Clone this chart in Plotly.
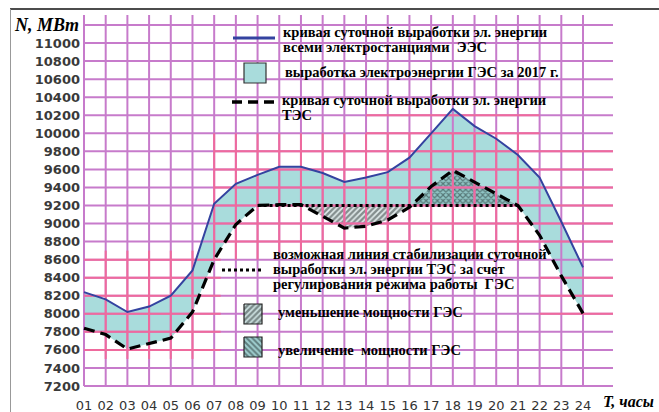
import plotly.graph_objects as go

# ---------------- data ----------------
hours = list(range(1, 25))
hour_labels = [f"{h:02d}" for h in hours]
total_ees = [8240, 8160, 8020, 8080, 8200, 8480, 9220, 9440, 9540, 9630, 9630, 9560,
             9460, 9510, 9570, 9730, 10000, 10270, 10080, 9940, 9760, 9510, 9020, 8515]
tes = [7840, 7770, 7610, 7670, 7730, 8020, 8600, 8990, 9200, 9210, 9210, 9080,
       8950, 8970, 9040, 9180, 9410, 9590, 9460, 9330, 9200, 8870, 8420, 8005]
stab_hours = [9, 21]
stab_level = 9200
y_ticks = list(range(7200, 11001, 200))
grid_y = list(range(7200, 11201, 200))

# ---------------- geometry ----------------
W, H = 659, 412
PL, PR, PT, PB = 81, 615, 14, 389
PPH = 21.696          # px per hour
PPU = 18.05 / 200.0   # px per MW
X0 = 1 - (84 - PL) / PPH
X1 = 1 + (PR - 84) / PPH
Y0 = 7200 - (PB - 386) / PPU
Y1 = 7200 + (386 - PT) / PPU
XH_END = 1 + (613 - 84) / PPH
YV_TOP = 7200 + (386 - 15) / PPU


def DX(px):
    return 1 + (px - 84) / PPH


def DY(py):
    return 7200 + (386 - py) / PPU


def PXp(px):
    return (px - PL) / (PR - PL)


def PYp(py):
    return (PB - py) / (PB - PT)


PURPLE = "#c77bcb"
PINK = "#ef6a9d"
CYAN = "#a9dcdc"
BLUE = "#3443a0"

# ---------------- fill boundaries ----------------
a, b = stab_hours
s = stab_level
low_x, low_y = [], []
mn_x, mn_y = [], []
mx_x, mx_y = [], []
for i, (x, y) in enumerate(zip(hours, tes)):
    inside = a <= x <= b
    low_x.append(x)
    low_y.append(max(y, s) if inside else y)
    if inside:
        mn_x.append(x); mn_y.append(min(y, s))
        mx_x.append(x); mx_y.append(max(y, s))
    if i < len(hours) - 1:
        x2, y2 = hours[i + 1], tes[i + 1]
        if a <= x and x2 <= b and (y - s) * (y2 - s) < 0:
            xc = x + (s - y) / (y2 - y) * (x2 - x)
            low_x.append(xc); low_y.append(s)
            mn_x.append(xc); mn_y.append(s)
            mx_x.append(xc); mx_y.append(s)

fig = go.Figure()

fig.add_trace(go.Scatter(
    x=hours + low_x[::-1], y=total_ees + low_y[::-1],
    fill="toself", fillcolor=CYAN, line=dict(width=0), mode="lines",
    hoverinfo="skip", showlegend=False))

fig.add_trace(go.Scatter(
    x=mn_x + [b, a], y=mn_y + [s, s],
    fill="toself", mode="lines", line=dict(width=0),
    fillpattern=dict(shape="/", fgcolor="#26302f", bgcolor="#e2ecec", size=4, solidity=0.6),
    hoverinfo="skip", showlegend=False))

fig.add_trace(go.Scatter(
    x=mx_x + [b, a], y=mx_y + [s, s],
    fill="toself", mode="lines", line=dict(width=0),
    fillpattern=dict(shape="x", fgcolor="#22302f", bgcolor="#8fc4c4", size=4, solidity=0.5),
    hoverinfo="skip", showlegend=False))

# ---------------- grid (drawn above the fills) ----------------
gx, gy = [], []
for h in hours:
    gx += [h, h, None]; gy += [7200, YV_TOP, None]
for g in grid_y:
    gx += [1, XH_END, None]; gy += [g, g, None]
fig.add_trace(go.Scatter(x=gx, y=gy, mode="lines", line=dict(color=PURPLE, width=2),
                         hoverinfo="skip", showlegend=False))

pink_h = [(1, 7.3, g) for g in range(7600, 8601, 200)]
pink_h += [(7, XH_END, g) for g in range(8800, 9801, 200)]
pink_h += [(22, XH_END, g) for g in range(8000, 8401, 200)]
pink_h += [(14, 22, g) for g in range(10000, 10201, 200)]
pink_v = [(h, 7500, 8700) for h in range(2, 7)]
pink_v += [(h, 8600, 10000) for h in range(7, 22)]
px_, py_ = [], []
for x0, x1, g in pink_h:
    px_ += [x0, x1, None]; py_ += [g, g, None]
for h, y0, y1 in pink_v:
    px_ += [h, h, None]; py_ += [y0, y1, None]
fig.add_trace(go.Scatter(x=px_, y=py_, mode="lines", line=dict(color=PINK, width=2),
                         hoverinfo="skip", showlegend=False))

# ---------------- lines ----------------
fig.add_trace(go.Scatter(x=hours, y=total_ees, mode="lines",
                         line=dict(color=BLUE, width=2), hoverinfo="skip", showlegend=False))
fig.add_trace(go.Scatter(x=hours, y=tes, mode="lines",
                         line=dict(color="black", width=3.2, dash="11px,6px"),
                         hoverinfo="skip", showlegend=False))
fig.add_trace(go.Scatter(x=stab_hours, y=[stab_level, stab_level], mode="lines",
                         line=dict(color="black", width=3, dash="dot"),
                         hoverinfo="skip", showlegend=False))

# ---------------- legend icons ----------------
def square(px0, py0, px1, py1):
    return ([DX(px0), DX(px1), DX(px1), DX(px0), DX(px0)],
            [DY(py0), DY(py0), DY(py1), DY(py1), DY(py0)])

sx, sy = square(244, 304, 262, 324)
fig.add_trace(go.Scatter(x=sx, y=sy, fill="toself", mode="lines",
                         line=dict(color="#222", width=1.2),
                         fillpattern=dict(shape="/", fgcolor="#26302f", bgcolor="#cfe3e3", size=4, solidity=0.6),
                         hoverinfo="skip", showlegend=False))
sx, sy = square(244, 337, 262, 357)
fig.add_trace(go.Scatter(x=sx, y=sy, fill="toself", mode="lines",
                         line=dict(color="#222", width=1.2),
                         fillpattern=dict(shape="\\", fgcolor="#22302f", bgcolor="#9fcfcf", size=4, solidity=0.5),
                         hoverinfo="skip", showlegend=False))

shapes = [
    dict(type="line", xref="paper", yref="paper", x0=PXp(233), x1=PXp(275),
         y0=PYp(38), y1=PYp(38), line=dict(color=BLUE, width=3)),
    dict(type="rect", xref="paper", yref="paper", x0=PXp(244), x1=PXp(266),
         y0=PYp(63), y1=PYp(83), fillcolor=CYAN, line=dict(color="#333", width=1.2)),
    dict(type="line", xref="paper", yref="paper", x0=PXp(232), x1=PXp(275),
         y0=PYp(102), y1=PYp(102), line=dict(color="black", width=3.5, dash="10px,6px")),
    dict(type="line", xref="paper", yref="paper", x0=PXp(222), x1=PXp(263),
         y0=PYp(270), y1=PYp(270), line=dict(color="black", width=3, dash="dot")),
    dict(type="line", xref="paper", yref="paper", x0=PXp(10), x1=PXp(659),
         y0=PYp(9), y1=PYp(9), line=dict(color="#111", width=1.5)),
    dict(type="line", xref="paper", yref="paper", x0=PXp(10.5), x1=PXp(10.5),
         y0=PYp(9), y1=PYp(412), line=dict(color="#999", width=1)),
]

SERIF = "Liberation Serif"
annotations = []


def ann(text, px, py, size=14.5, anchor="left"):
    annotations.append(dict(
        text=text, xref="paper", yref="paper", x=PXp(px), y=PYp(py),
        xanchor=anchor, yanchor="middle", showarrow=False,
        font=dict(family=SERIF, size=size, color="#000")))


ann("<b>кривая суточной выработки эл. энергии</b>", 281, 32)
ann("<b>всеми электростанциями  ЭЭС</b>", 281, 47)
ann("<b>выработка электроэнергии ГЭС за 2017 г.</b>", 283, 72)
ann("<b>кривая суточной выработки эл. энергии</b>", 280, 100)
ann("<b>ТЭС</b>", 280, 115)
ann("<b>возможная линия стабилизации суточной</b>", 271, 254)
ann("<b>выработки эл. энергии ТЭС за счет</b>", 271, 269)
ann("<b>регулирования режима работы  ГЭС</b>", 271, 284)
ann("<b>уменьшение мощности ГЭС</b>", 276, 312)
ann("<b>увеличение  мощности ГЭС</b>", 276, 350)
ann("<b><i>N, MBm</i></b>", 81, 25, size=18, anchor="right")
ann("<b><i>T, часы</i></b>", 656, 401, size=16, anchor="right")

fig.update_layout(
    width=W, height=H,
    margin=dict(l=PL, r=W - PR, t=PT, b=H - PB, pad=0, autoexpand=False),
    paper_bgcolor="white", plot_bgcolor="white",
    shapes=shapes, annotations=annotations,
    xaxis=dict(range=[X0, X1], tickvals=hours, ticktext=hour_labels, automargin=False,
               showgrid=False, zeroline=False, showline=False, ticks="",
               tickfont=dict(family="DejaVu Sans", size=13, color="#333"),
               ticklabelstandoff=7),
    yaxis=dict(range=[Y0, Y1], tickvals=y_ticks, ticktext=[f"<b>{v}</b>" for v in y_ticks],
               automargin=False,
               showgrid=False, zeroline=False, showline=False, ticks="",
               tickfont=dict(family="DejaVu Sans", size=13, color="#3a3a3a"),
               ticklabelstandoff=0),
)

fig.write_html("out.html", config={"displayModeBar": False},
               post_script="document.body.style.margin='0px';document.body.style.overflow='hidden';")
